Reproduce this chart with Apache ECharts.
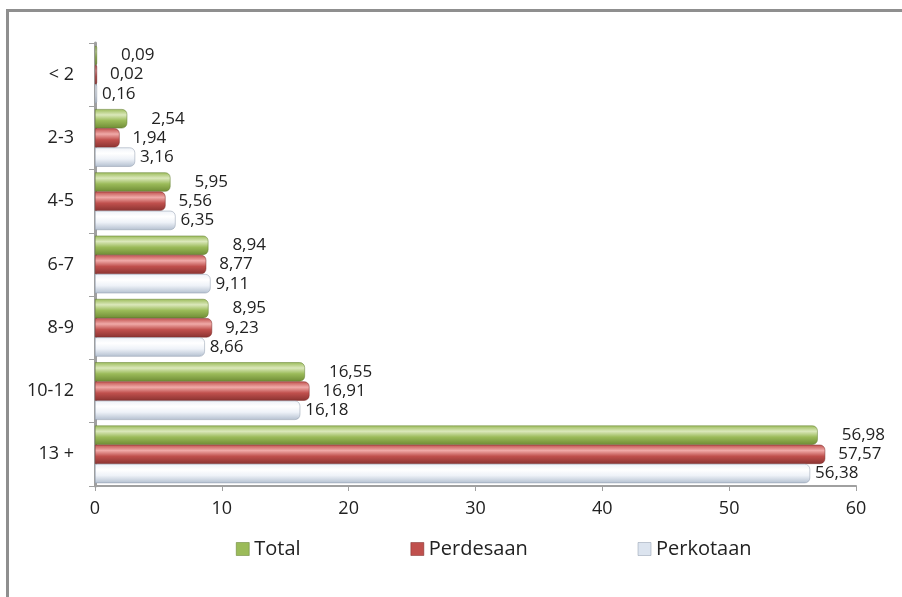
<!DOCTYPE html>
<html>
<head>
<meta charset="utf-8">
<script src="https://cdn.jsdelivr.net/npm/echarts@6/dist/echarts.min.js"></script>
<style>
  html, body { margin: 0; padding: 0; background: #fff; }
  #chart { width: 902px; height: 597px; }
</style>
</head>
<body>
<div id="chart"></div>
<script>
// data
const categories = ['< 2', '2-3', '4-5', '6-7', '8-9', '10-12', '13 +'];
const seriesNames = ['Total', 'Perdesaan', 'Perkotaan'];
const totalValues = [0.09, 2.54, 5.95, 8.94, 8.95, 16.55, 56.98];
const perdesaanValues = [0.02, 1.94, 5.56, 8.77, 9.23, 16.91, 57.57];
const perkotaanValues = [0.16, 3.16, 6.35, 9.11, 8.66, 16.18, 56.38];
const xTicks = [0, 10, 20, 30, 40, 50, 60];

const fontFamily = '"Open Sans", sans-serif';

// cylinder-like shading per series
const styles = [
  { stops: ['#dbe8bb', '#9bbb59', '#6f8c35'], border: '#5f7a2c', legend: '#9bbb59', dist: 24 },
  { stops: ['#f0aaa8', '#c0504d', '#8a3331'], border: '#7a2b29', legend: '#c0504d', dist: 13 },
  { stops: ['#ffffff', '#eef2f8', '#b4c0d0'], border: '#8c99aa', legend: '#dce4ef', dist: 5 }
];

function grad(stops) {
  return new echarts.graphic.LinearGradient(0, 0, 0, 1, [
    { offset: 0, color: stops[1] },
    { offset: 0.3, color: stops[0] },
    { offset: 0.6, color: stops[1] },
    { offset: 1, color: stops[2] }
  ]);
}

const allValues = [totalValues, perdesaanValues, perkotaanValues];

let chart = echarts.init(document.getElementById('chart'));

let seriesData = allValues.map((vals, i) => {
  return {
    name: seriesNames[i],
    type: 'bar',
    data: vals,
    barGap: '0%',
    barCategoryGap: '9%',
    barMinHeight: 2,
    itemStyle: {
      color: grad(styles[i].stops),
      borderColor: styles[i].border,
      borderWidth: 0.5,
      borderRadius: [0, 5, 5, 0]
    },
    label: {
      show: true,
      position: 'right',
      distance: styles[i].dist,
      color: '#222',
      fontFamily: fontFamily,
      fontSize: 17,
      formatter: p => p.value.toFixed(2).replace('.', ',')
    }
  };
});

let option = {
  animation: false,
  backgroundColor: '#fff',
  textStyle: { fontFamily: fontFamily },
  graphic: [{
    type: 'rect',
    left: 5, top: 8,
    shape: { width: 920, height: 620 },
    style: { fill: 'none', stroke: '#8f8f8f', lineWidth: 3 },
    silent: true
  }],
  grid: { left: 95, right: 46, top: 43, bottom: 111 },
  legend: {
    top: 534,
    left: 231,
    icon: 'rect',
    itemWidth: 13,
    itemHeight: 13,
    itemGap: 110,
    textStyle: { fontSize: 20, color: '#222', fontFamily: fontFamily },
    data: seriesNames.map((n, i) => ({ name: n, itemStyle: { color: styles[i].legend, borderColor: styles[i].border, borderWidth: 0.5 } }))
  },
  xAxis: {
    type: 'value',
    min: xTicks[0],
    max: xTicks[xTicks.length - 1],
    interval: 10,
    axisLine: { show: true, lineStyle: { color: '#a0a0a0', width: 2 } },
    axisTick: { show: true, length: 5, lineStyle: { color: '#a0a0a0' } },
    splitLine: { show: false },
    axisLabel: { color: '#222', fontSize: 18, margin: 14, fontFamily: fontFamily }
  },
  yAxis: {
    type: 'category',
    inverse: true,
    data: categories,
    axisLine: { show: true, lineStyle: { color: '#a0a0a0', width: 3 } },
    axisTick: { show: true, length: 6, lineStyle: { color: '#a0a0a0' } },
    axisLabel: { color: '#222', fontSize: 18, margin: 21, fontFamily: fontFamily }
  },
  series: seriesData
};
chart.setOption(option);
window.addEventListener('resize', () => {
  chart.resize();
});
</script>
</body>
</html>
